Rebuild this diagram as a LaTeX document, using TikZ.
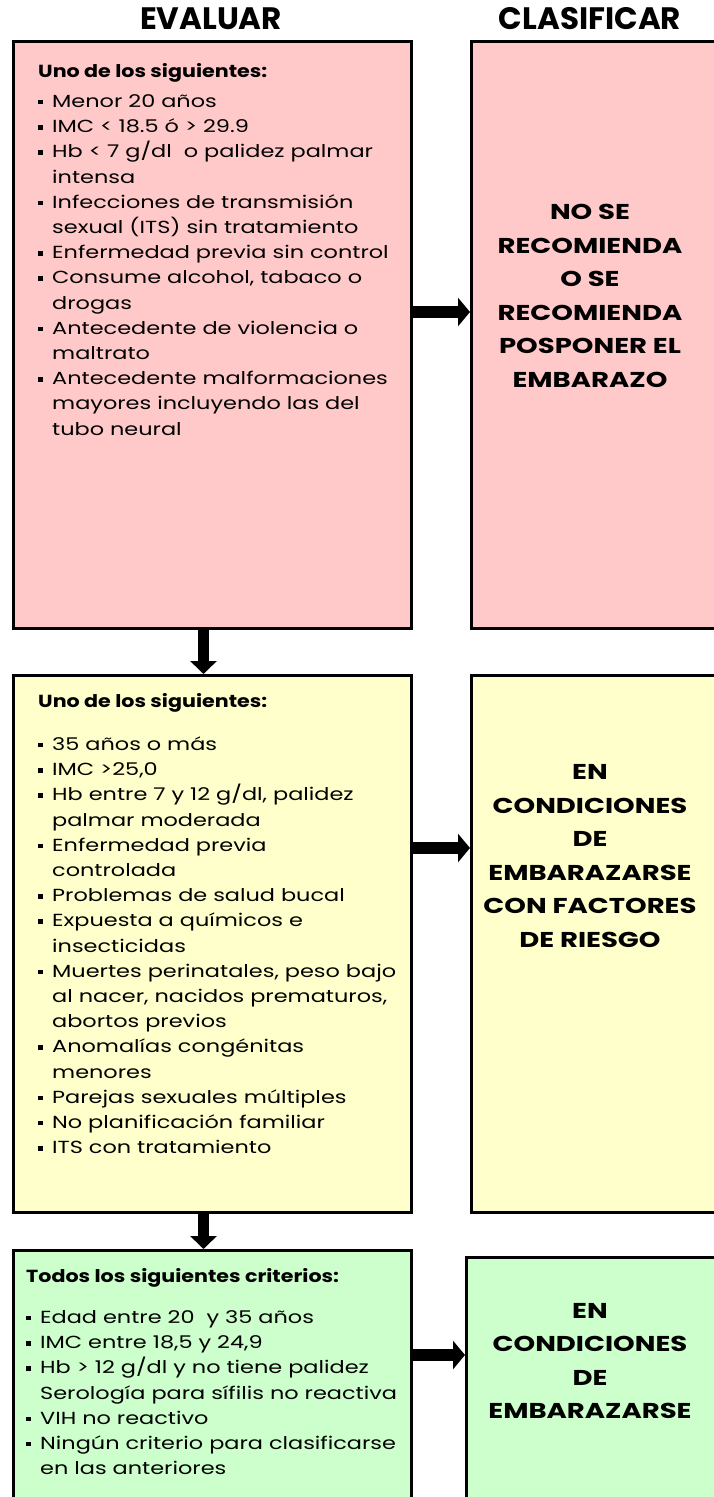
\documentclass[tikz,border=0pt]{standalone}
\usepackage{fontspec}
\setmainfont{Poppins}[FakeStretch=1.28]
\newfontfamily\cabeza{Poppins}
\newfontfamily\negrita{Poppins}[FakeStretch=1.18]
\usetikzlibrary{positioning,arrows.meta}
\definecolor{rosa}{RGB}{255,201,201}
\definecolor{amarillo}{RGB}{255,255,204}
\definecolor{verde}{RGB}{204,255,204}

\newcommand{\itm}{\makebox[14pt][l]{\raisebox{3pt}{\rule{4.5pt}{4.5pt}}}}
\newcommand{\sig}{\hspace*{14pt}}
\newcommand{\cabecera}[1]{{\negrita\bfseries #1}}

\begin{document}
\begin{tikzpicture}[x=1pt,y=1pt,
    caja/.style={draw,line width=3pt,anchor=north west,minimum width=398pt,inner sep=0pt},
    clase/.style={draw,line width=3pt,anchor=north west,minimum width=280pt,inner sep=0pt},
    lista/.style={anchor=north west,align=left,inner sep=0pt,font=\fontsize{17.5}{25.2}\selectfont},
    titulo/.style={align=center,inner sep=0pt,font=\fontsize{21.5}{33.5}\selectfont\bfseries},
    encabezado/.style={inner sep=0pt,font=\cabeza\fontsize{31}{34}\selectfont\bfseries},
    flecha/.style={line width=12pt,-{Triangle[length=12pt,width=28pt]}},
    bajada/.style={line width=11pt,-{Triangle[length=13pt,width=26pt]}}]
  \clip (0,0) rectangle (714,-1497);

  % encabezados
  \node[encabezado] (evaluar) at (211,-19) {EVALUAR};
  \node[encabezado] (clasificar) at (590,-19) {CLASIFICAR};

  % cajas
  \node[caja,fill=rosa,minimum height=587pt] (evalA) at (12,-40) {};
  \node[clase,fill=rosa,minimum height=587pt,right=57pt of evalA] (clasA) {};
  \node[caja,fill=amarillo,minimum height=537pt,below=44pt of evalA] (evalB) {};
  \node[clase,fill=amarillo,minimum height=537pt,right=57pt of evalB] (clasB) {};
  \node[caja,fill=verde,minimum height=300pt,below=35pt of evalB] (evalC) {};
  \node[clase,fill=verde,minimum height=300pt] (clasC) at (465,-1256) {};

  % textos
  \node[lista] (listaA) at (38,-63) {\cabecera{Uno de los siguientes:}\\[5pt]
    \itm Menor 20 años\\
    \itm IMC < 18.5 ó > 29.9\\
    \itm Hb < 7 g/dl\ \ o palidez palmar\\
    \sig intensa\\
    \itm Infecciones de transmisión\\
    \sig sexual (ITS) sin tratamiento\\
    \itm Enfermedad previa sin control\\
    \itm Consume alcohol, tabaco o\\
    \sig drogas\\
    \itm Antecedente de violencia o\\
    \sig maltrato\\
    \itm Antecedente malformaciones\\
    \sig mayores incluyendo las del\\
    \sig tubo neural};
  \node[lista] (listaB) at (38,-693) {\cabecera{Uno de los siguientes:}\\[18pt]
    \itm 35 años o más\\
    \itm IMC >25,0\\
    \itm Hb entre 7 y 12 g/dl, palidez\\
    \sig palmar moderada\\
    \itm Enfermedad previa\\
    \sig controlada\\
    \itm Problemas de salud bucal\\
    \itm Expuesta a químicos e\\
    \sig insecticidas\\
    \itm Muertes perinatales, peso bajo\\
    \sig al nacer, nacidos prematuros,\\
    \sig abortos previos\\
    \itm Anomalías congénitas\\
    \sig menores\\
    \itm Parejas sexuales múltiples\\
    \itm No planificación familiar\\
    \itm ITS con tratamiento};
  \node[lista] (listaC) at (26,-1268) {\cabecera{Todos los siguientes criterios:}\\[16pt]
    \itm Edad entre 20\ \ y 35 años\\
    \itm IMC entre 18,5 y 24,9\\
    \itm Hb > 12 g/dl y no tiene palidez\\
    \sig Serología para sífilis no reactiva\\
    \itm VIH no reactivo\\
    \itm Ningún criterio para clasificarse\\
    \sig en las anteriores};

  \node[titulo] (txtA) at (590,-296) {NO SE\\RECOMIENDA\\O SE\\RECOMIENDA\\POSPONER EL\\EMBARAZO};
  \node[titulo] (txtB) at (590,-856) {EN\\CONDICIONES\\DE\\EMBARAZARSE\\CON FACTORES\\DE RIESGO};
  \node[titulo] (txtC) at (590,-1361) {EN\\CONDICIONES\\DE\\EMBARAZARSE};

  % flechas
  \coordinate (nivelA) at (0,-312);
  \coordinate (nivelB) at (0,-848);
  \coordinate (nivelC) at (0,-1355);
  \draw[flecha] (evalA.east |- nivelA) -- (clasA.west |- nivelA);
  \draw[flecha] (evalB.east |- nivelB) -- (clasB.west |- nivelB);
  \draw[flecha] (evalC.east |- nivelC) -- (clasC.west |- nivelC);
  \draw[bajada] ([xshift=-9pt]evalA.south) -- ([xshift=-9pt]evalB.north);
  \draw[bajada] ([xshift=-9pt]evalB.south) -- ([xshift=-9pt]evalC.north);
\end{tikzpicture}
\end{document}
